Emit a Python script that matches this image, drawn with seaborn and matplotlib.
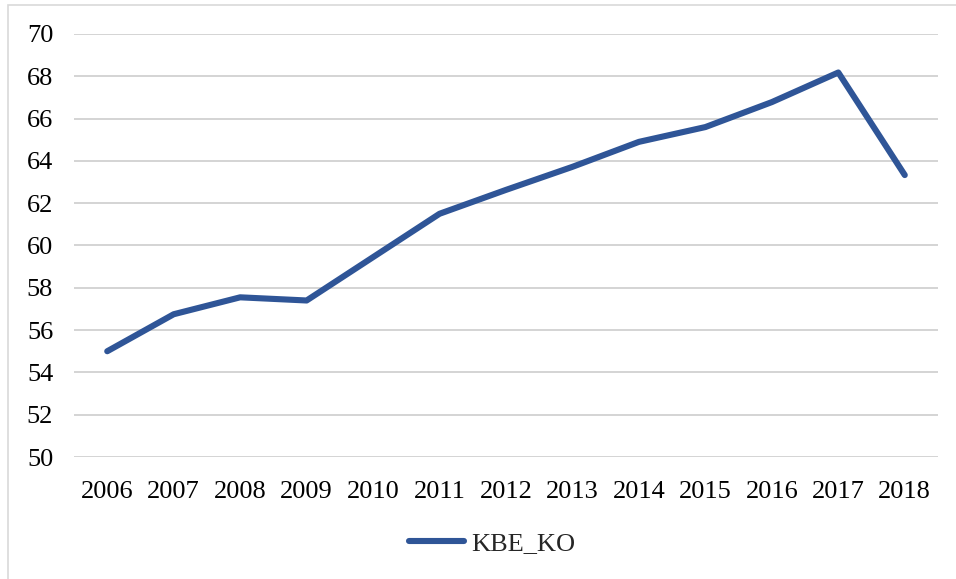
import seaborn as sns
import numpy as np
import pandas as pd
import matplotlib.pyplot as plt
from matplotlib.patches import Rectangle

years = ['2006', '2007', '2008', '2009', '2010', '2011', '2012',
         '2013', '2014', '2015', '2016', '2017', '2018']
kbe_ko = [55.0, 56.75, 57.55, 57.4, 59.45, 61.5, 62.63,
          63.72, 64.9, 65.6, 66.78, 68.18, 63.33]
series_name = 'KBE_KO'
y_ticks = np.arange(50, 71, 2)

sns.set_style('white')
plt.rcParams['font.family'] = ['Liberation Serif', 'DejaVu Serif']

df = pd.DataFrame({'year': years, 'value': kbe_ko, 'series': series_name})

W, H = 956, 579
fig = plt.figure(figsize=(W / 100, H / 100), dpi=100)
ax = fig.add_axes([74 / W, 1 - 457 / H, (938 - 74) / W, (457 - 34) / H])

sns.lineplot(data=df, x='year', y='value', hue='series', palette=['#2F5597'],
             linewidth=4.4, ax=ax, legend=False, sort=False)

ax.set_xlim(-0.5, len(years) - 0.5)
ax.set_ylim(50, 70)
ax.set_yticks(y_ticks)
ax.yaxis.grid(True, color='#D4D4D4', linewidth=1.4)
ax.set_axisbelow(True)
for s in ax.spines.values():
    s.set_visible(False)
ax.tick_params(axis='y', length=0, pad=15, labelsize=19, colors='#000000')
ax.tick_params(axis='x', length=0, pad=17, labelsize=19, colors='#000000')
ax.set_xlabel('')
ax.set_ylabel('')

handles = ax.get_lines()[:1]
fig.legend(handles, [series_name], loc='center', bbox_to_anchor=(492 / W, 1 - 543 / H),
           frameon=False, fontsize=19, handlelength=2.1, handletextpad=0.25)

# chart area border (only top and left visible in the reference)
fig.patches.append(Rectangle((8 / W, -0.05), 1.0, 1 - 5 / H + 0.05, transform=fig.transFigure,
                             fill=False, edgecolor='#D9D9D9', linewidth=1.2, clip_on=False))

fig.savefig('out.png', dpi=100)
